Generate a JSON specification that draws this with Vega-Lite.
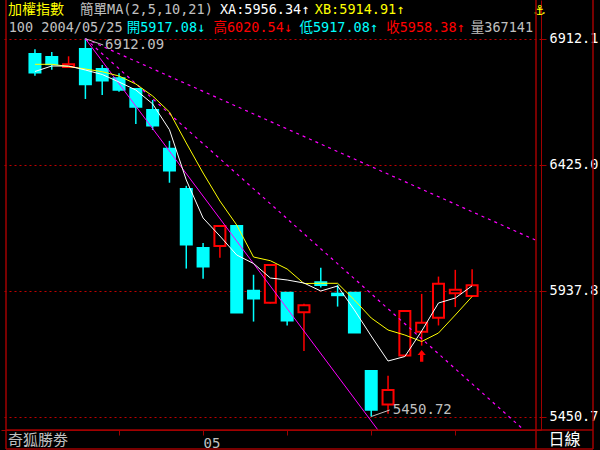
{
  "$schema": "https://vega.github.io/schema/vega-lite/v6.json",
  "width": 540,
  "height": 430,
  "autosize": {"type": "none"},
  "padding": {"left": 1, "top": 0, "right": 59, "bottom": 20},
  "background": "#000000",
  "config": {"view": {"stroke": null}},
  "datasets": {
    "candles": [
      {"idx": 1, "open": 6853, "high": 6871, "low": 6769, "close": 6781},
      {"idx": 2, "open": 6841, "high": 6861, "low": 6792, "close": 6813},
      {"idx": 3, "open": 6803, "high": 6844, "low": 6802, "close": 6813},
      {"idx": 4, "open": 6872, "high": 6912.09, "low": 6679, "close": 6736},
      {"idx": 5, "open": 6795, "high": 6810, "low": 6694, "close": 6750},
      {"idx": 6, "open": 6759, "high": 6778, "low": 6707, "close": 6715},
      {"idx": 7, "open": 6718, "high": 6720, "low": 6582, "close": 6649},
      {"idx": 8, "open": 6636, "high": 6675, "low": 6559, "close": 6576},
      {"idx": 9, "open": 6486, "high": 6517, "low": 6355, "close": 6402},
      {"idx": 10, "open": 6331, "high": 6343, "low": 6023, "close": 6116},
      {"idx": 11, "open": 6103, "high": 6122, "low": 5984, "close": 6031},
      {"idx": 12, "open": 6110, "high": 6190, "low": 6065, "close": 6188},
      {"idx": 13, "open": 6188, "high": 6191, "low": 5852, "close": 5853},
      {"idx": 14, "open": 5937, "high": 5999, "low": 5818, "close": 5907},
      {"idx": 15, "open": 5891, "high": 6038, "low": 5888, "close": 6037},
      {"idx": 16, "open": 5929, "high": 5931, "low": 5803, "close": 5822},
      {"idx": 17, "open": 5854, "high": 5887, "low": 5704, "close": 5881},
      {"idx": 18, "open": 5970, "high": 6026, "low": 5950, "close": 5959},
      {"idx": 19, "open": 5926, "high": 5960, "low": 5876, "close": 5920},
      {"idx": 20, "open": 5929, "high": 5931, "low": 5775, "close": 5776},
      {"idx": 21, "open": 5627, "high": 5629, "low": 5450.72, "close": 5477},
      {"idx": 22, "open": 5497, "high": 5608, "low": 5461, "close": 5553},
      {"idx": 23, "open": 5687, "high": 5860, "low": 5685, "close": 5859},
      {"idx": 24, "open": 5779, "high": 5925, "low": 5725, "close": 5813},
      {"idx": 25, "open": 5833, "high": 5992, "low": 5803, "close": 5964},
      {"idx": 26, "open": 5928, "high": 6018, "low": 5874, "close": 5941},
      {"idx": 27, "open": 5917.08, "high": 6020.54, "low": 5917.08, "close": 5958.38}
    ],
    "ma": [
      {"idx": 1, "xa": 6785.2, "xb": 6813.1},
      {"idx": 2, "xa": 6806.5, "xb": 6813.1},
      {"idx": 3, "xa": 6806.5, "xb": 6804.6},
      {"idx": 4, "xa": 6791.0, "xb": 6794.9},
      {"idx": 5, "xa": 6773.6, "xb": 6784.5},
      {"idx": 6, "xa": 6744.6, "xb": 6767.8},
      {"idx": 7, "xa": 6713.7, "xb": 6736.9},
      {"idx": 8, "xa": 6660.0, "xb": 6690.5},
      {"idx": 9, "xa": 6560.0, "xb": 6628.6},
      {"idx": 10, "xa": 6365.6, "xb": 6508.7},
      {"idx": 11, "xa": 6218.6, "xb": 6392.6},
      {"idx": 12, "xa": 6148.9, "xb": 6284.3},
      {"idx": 13, "xa": 6075.5, "xb": 6191.5},
      {"idx": 14, "xa": 6042.6, "xb": 6067.7},
      {"idx": 15, "xa": 5986.5, "xb": 6053.4},
      {"idx": 16, "xa": 5978.8, "xb": 6021.3},
      {"idx": 17, "xa": 5967.1, "xb": 5965.2},
      {"idx": 18, "xa": 5936.2, "xb": 5966.0},
      {"idx": 19, "xa": 5955.5, "xb": 5966.0},
      {"idx": 20, "xa": 5862.7, "xb": 5901.4},
      {"idx": 21, "xa": 5762.1, "xb": 5831.8},
      {"idx": 22, "xa": 5665.4, "xb": 5785.4},
      {"idx": 23, "xa": 5682.8, "xb": 5766.0},
      {"idx": 24, "xa": 5781.5, "xb": 5740.9},
      {"idx": 25, "xa": 5889.8, "xb": 5773.7},
      {"idx": 26, "xa": 5909.1, "xb": 5843.4},
      {"idx": 27, "xa": 5956.34, "xb": 5914.91}
    ]
  },
  "layer": [
    {
      "data": {"name": "candles"},
      "mark": {"type": "rule", "strokeWidth": 1.5},
      "encoding": {
        "x": {"field": "idx", "type": "quantitative", "title": null, "scale": {"domain": [-0.722, 30.8], "nice": false, "zero": false},
          "axis": {"orient": "bottom", "title": null, "values": [6, 11, 16, 21, 26], "labelExpr": "datum.value == 11 ? '05' : ''", "grid": false, "tickColor": "#A00000", "tickSize": 5, "domainColor": "#A00000", "labelColor": "#C0C0C0", "labelFont": "DejaVu Sans Mono", "labelFontSize": 14, "labelAlign": "left", "labelBaseline": "top", "labelPadding": 1, "labelFlush": false, "labelOverlap": false}},
        "y": {"field": "low", "type": "quantitative", "title": null, "scale": {"domain": [5398.6, 7061.8], "nice": false, "zero": false},
          "axis": {"orient": "right", "title": null,
            "values": [5450.72, 5937.84, 6424.97, 6912.09],
            "format": ".1f",
            "grid": true, "gridColor": "#C00000", "gridDash": [2, 3], "gridWidth": 1, "gridOpacity": 1,
            "tickColor": "#A00000", "tickSize": 5,
            "domainColor": "#A00000", "labelColor": "#FFFFFF", "labelFont": "DejaVu Sans Mono", "labelFontSize": 13.5, "labelPadding": 3, "labelBaseline": "middle", "labelOverlap": false, "labelFlush": false}},
        "y2": {"field": "high"},
        "color": {"condition": {"test": "datum.close > datum.open", "value": "#FF0000"}, "value": "#00FFFF"}
      }
    },
    {
      "data": {"name": "candles"},
      "mark": {"type": "bar", "width": 11, "strokeWidth": 2},
      "encoding": {
        "x": {"field": "idx", "type": "quantitative", "title": null, "scale": {"domain": [-0.722, 30.8], "nice": false, "zero": false}},
        "y": {"field": "open", "type": "quantitative", "title": null, "scale": {"domain": [5398.6, 7061.8], "nice": false, "zero": false}},
        "y2": {"field": "close"},
        "fill": {"condition": {"test": "datum.close > datum.open", "value": "#000000"}, "value": "#00FFFF"},
        "stroke": {"condition": {"test": "datum.close > datum.open", "value": "#FF0000"}, "value": "#00FFFF"}
      }
    },
    {
      "data": {"values": [{"x1": 4, "p1": 6912.09, "x2": 21.4, "p2": 5398.6}]},
      "mark": {"type": "rule", "color": "#FF00FF", "strokeWidth": 1},
      "encoding": {
        "x": {"field": "x1", "type": "quantitative", "title": null, "scale": {"domain": [-0.722, 30.8], "nice": false, "zero": false}},
        "y": {"field": "p1", "type": "quantitative", "title": null, "scale": {"domain": [5398.6, 7061.8], "nice": false, "zero": false}},
        "x2": {"field": "x2"},
        "y2": {"field": "p2"}
      }
    },
    {
      "data": {"values": [{"x1": 4, "p1": 6912.09, "x2": 30.08, "p2": 5398.6}, {"x1": 4, "p1": 6912.09, "x2": 30.8, "p2": 6132.3}]},
      "mark": {"type": "rule", "color": "#FF00FF", "strokeWidth": 1.2, "strokeDash": [3, 4]},
      "encoding": {
        "x": {"field": "x1", "type": "quantitative", "title": null, "scale": {"domain": [-0.722, 30.8], "nice": false, "zero": false}},
        "y": {"field": "p1", "type": "quantitative", "title": null, "scale": {"domain": [5398.6, 7061.8], "nice": false, "zero": false}},
        "x2": {"field": "x2"},
        "y2": {"field": "p2"}
      }
    },
    {
      "data": {"name": "ma"},
      "mark": {"type": "line", "color": "#FFFF00", "strokeWidth": 1},
      "encoding": {
        "x": {"field": "idx", "type": "quantitative", "title": null, "scale": {"domain": [-0.722, 30.8], "nice": false, "zero": false}},
        "y": {"field": "xb", "type": "quantitative", "title": null, "scale": {"domain": [5398.6, 7061.8], "nice": false, "zero": false}}
      }
    },
    {
      "data": {"name": "ma"},
      "mark": {"type": "line", "color": "#FFFFFF", "strokeWidth": 1},
      "encoding": {
        "x": {"field": "idx", "type": "quantitative", "title": null, "scale": {"domain": [-0.722, 30.8], "nice": false, "zero": false}},
        "y": {"field": "xa", "type": "quantitative", "title": null, "scale": {"domain": [5398.6, 7061.8], "nice": false, "zero": false}}
      }
    },
    {
      "data": {"values": [{"x1": 4, "p1": 6912.09, "x2": 5.06, "p2": 6887.7}, {"x1": 21, "p1": 5450.72, "x2": 22.1, "p2": 5475.9}]},
      "mark": {"type": "rule", "color": "#C0C0C0", "strokeWidth": 1},
      "encoding": {
        "x": {"field": "x1", "type": "quantitative", "title": null, "scale": {"domain": [-0.722, 30.8], "nice": false, "zero": false}},
        "y": {"field": "p1", "type": "quantitative", "title": null, "scale": {"domain": [5398.6, 7061.8], "nice": false, "zero": false}},
        "x2": {"field": "x2"},
        "y2": {"field": "p2"}
      }
    },
    {
      "data": {"values": [{"idx": 5.17, "price": 6887.7, "label": "6912.09"}, {"idx": 22.28, "price": 5475.9, "label": "5450.72"}]},
      "mark": {"type": "text", "align": "left", "baseline": "middle", "font": "DejaVu Sans Mono", "fontSize": 14, "color": "#C0C0C0"},
      "encoding": {
        "x": {"field": "idx", "type": "quantitative", "title": null, "scale": {"domain": [-0.722, 30.8], "nice": false, "zero": false}},
        "y": {"field": "price", "type": "quantitative", "title": null, "scale": {"domain": [5398.6, 7061.8], "nice": false, "zero": false}},
        "text": {"field": "label"}
      }
    },
    {
      "data": {"values": [{"idx": 24, "price": 5685}]},
      "mark": {"type": "point", "shape": "M0,-1L0.7,-0.15L0.28,-0.15L0.28,1L-0.28,1L-0.28,-0.15L-0.7,-0.15Z", "filled": true, "color": "#FF0000", "size": 140, "opacity": 1},
      "encoding": {
        "x": {"field": "idx", "type": "quantitative", "title": null, "scale": {"domain": [-0.722, 30.8], "nice": false, "zero": false}},
        "y": {"field": "price", "type": "quantitative", "title": null, "scale": {"domain": [5398.6, 7061.8], "nice": false, "zero": false}}
      }
    },
    {
      "data": {"values": [{"t": "加權指數"}]},
      "mark": {"type": "text", "align": "left", "baseline": "middle", "font": "DejaVu Sans Mono, Noto Sans CJK TC", "fontSize": 14, "color": "#FFFF00"},
      "encoding": {
        "x": {"datum": -0.605, "type": "quantitative", "title": null, "scale": {"domain": [-0.722, 30.8], "nice": false, "zero": false}},
        "y": {"datum": 7021.2, "type": "quantitative", "title": null, "scale": {"domain": [5398.6, 7061.8], "nice": false, "zero": false}},
        "text": {"field": "t"}
      }
    },
    {
      "data": {"values": [{"t": "簡單MA(2,5,10,21)"}]},
      "mark": {"type": "text", "align": "left", "baseline": "middle", "font": "DejaVu Sans Mono, Noto Sans CJK TC", "fontSize": 13.5, "color": "#C0C0C0"},
      "encoding": {
        "x": {"datum": 3.685, "type": "quantitative", "title": null, "scale": {"domain": [-0.722, 30.8], "nice": false, "zero": false}},
        "y": {"datum": 7021.2, "type": "quantitative", "title": null, "scale": {"domain": [5398.6, 7061.8], "nice": false, "zero": false}},
        "text": {"field": "t"}
      }
    },
    {
      "data": {"values": [{"t": "XA:5956.34↑"}]},
      "mark": {"type": "text", "align": "left", "baseline": "middle", "font": "DejaVu Sans Mono, Noto Sans CJK TC", "fontSize": 13.5, "color": "#FFFFFF"},
      "encoding": {
        "x": {"datum": 12.003, "type": "quantitative", "title": null, "scale": {"domain": [-0.722, 30.8], "nice": false, "zero": false}},
        "y": {"datum": 7021.2, "type": "quantitative", "title": null, "scale": {"domain": [5398.6, 7061.8], "nice": false, "zero": false}},
        "text": {"field": "t"}
      }
    },
    {
      "data": {"values": [{"t": "XB:5914.91↑"}]},
      "mark": {"type": "text", "align": "left", "baseline": "middle", "font": "DejaVu Sans Mono, Noto Sans CJK TC", "fontSize": 13.5, "color": "#FFFF00"},
      "encoding": {
        "x": {"datum": 17.648, "type": "quantitative", "title": null, "scale": {"domain": [-0.722, 30.8], "nice": false, "zero": false}},
        "y": {"datum": 7021.2, "type": "quantitative", "title": null, "scale": {"domain": [5398.6, 7061.8], "nice": false, "zero": false}},
        "text": {"field": "t"}
      }
    },
    {
      "data": {"values": [{"t": "100 2004/05/25"}]},
      "mark": {"type": "text", "align": "left", "baseline": "middle", "font": "DejaVu Sans Mono, Noto Sans CJK TC", "fontSize": 13.5, "color": "#C0C0C0"},
      "encoding": {
        "x": {"datum": -0.559, "type": "quantitative", "title": null, "scale": {"domain": [-0.722, 30.8], "nice": false, "zero": false}},
        "y": {"datum": 6953.5, "type": "quantitative", "title": null, "scale": {"domain": [5398.6, 7061.8], "nice": false, "zero": false}},
        "text": {"field": "t"}
      }
    },
    {
      "data": {"values": [{"t": "開5917.08↓"}]},
      "mark": {"type": "text", "align": "left", "baseline": "middle", "font": "DejaVu Sans Mono, Noto Sans CJK TC", "fontSize": 13.5, "color": "#00FFFF"},
      "encoding": {
        "x": {"datum": 6.458, "type": "quantitative", "title": null, "scale": {"domain": [-0.722, 30.8], "nice": false, "zero": false}},
        "y": {"datum": 6953.5, "type": "quantitative", "title": null, "scale": {"domain": [5398.6, 7061.8], "nice": false, "zero": false}},
        "text": {"field": "t"}
      }
    },
    {
      "data": {"values": [{"t": "高6020.54↓"}]},
      "mark": {"type": "text", "align": "left", "baseline": "middle", "font": "DejaVu Sans Mono, Noto Sans CJK TC", "fontSize": 13.5, "color": "#FF0000"},
      "encoding": {
        "x": {"datum": 11.618, "type": "quantitative", "title": null, "scale": {"domain": [-0.722, 30.8], "nice": false, "zero": false}},
        "y": {"datum": 6953.5, "type": "quantitative", "title": null, "scale": {"domain": [5398.6, 7061.8], "nice": false, "zero": false}},
        "text": {"field": "t"}
      }
    },
    {
      "data": {"values": [{"t": "低5917.08↑"}]},
      "mark": {"type": "text", "align": "left", "baseline": "middle", "font": "DejaVu Sans Mono, Noto Sans CJK TC", "fontSize": 13.5, "color": "#00FFFF"},
      "encoding": {
        "x": {"datum": 16.732, "type": "quantitative", "title": null, "scale": {"domain": [-0.722, 30.8], "nice": false, "zero": false}},
        "y": {"datum": 6953.5, "type": "quantitative", "title": null, "scale": {"domain": [5398.6, 7061.8], "nice": false, "zero": false}},
        "text": {"field": "t"}
      }
    },
    {
      "data": {"values": [{"t": "收5958.38↑"}]},
      "mark": {"type": "text", "align": "left", "baseline": "middle", "font": "DejaVu Sans Mono, Noto Sans CJK TC", "fontSize": 13.5, "color": "#FF0000"},
      "encoding": {
        "x": {"datum": 21.892, "type": "quantitative", "title": null, "scale": {"domain": [-0.722, 30.8], "nice": false, "zero": false}},
        "y": {"datum": 6953.5, "type": "quantitative", "title": null, "scale": {"domain": [5398.6, 7061.8], "nice": false, "zero": false}},
        "text": {"field": "t"}
      }
    },
    {
      "data": {"values": [{"t": "量367141"}]},
      "mark": {"type": "text", "align": "left", "baseline": "middle", "font": "DejaVu Sans Mono, Noto Sans CJK TC", "fontSize": 13.5, "color": "#C0C0C0"},
      "encoding": {
        "x": {"datum": 26.924, "type": "quantitative", "title": null, "scale": {"domain": [-0.722, 30.8], "nice": false, "zero": false}},
        "y": {"datum": 6953.5, "type": "quantitative", "title": null, "scale": {"domain": [5398.6, 7061.8], "nice": false, "zero": false}},
        "text": {"field": "t"}
      }
    },
    {
      "data": {"values": [{"t": "⚓"}]},
      "mark": {"type": "text", "align": "center", "baseline": "middle", "font": "DejaVu Sans", "fontSize": 14, "fontWeight": "bold", "color": "#FFFF00"},
      "encoding": {
        "x": {"datum": 31.03, "type": "quantitative", "title": null, "scale": {"domain": [-0.722, 30.8], "nice": false, "zero": false}},
        "y": {"datum": 7019.2, "type": "quantitative", "title": null, "scale": {"domain": [5398.6, 7061.8], "nice": false, "zero": false}},
        "text": {"field": "t"}
      }
    },
    {
      "data": {"values": [{"t": "奇狐勝劵"}]},
      "mark": {"type": "text", "align": "left", "baseline": "middle", "font": "Noto Sans CJK TC", "fontSize": 15, "color": "#C0C0C0"},
      "encoding": {
        "x": {"datum": -0.605, "type": "quantitative", "title": null, "scale": {"domain": [-0.722, 30.8], "nice": false, "zero": false}},
        "y": {"datum": 5359.8, "type": "quantitative", "title": null, "scale": {"domain": [5398.6, 7061.8], "nice": false, "zero": false}},
        "text": {"field": "t"}
      }
    },
    {
      "data": {"values": [{"t": "日線"}]},
      "mark": {"type": "text", "align": "center", "baseline": "middle", "font": "Noto Sans CJK TC", "fontSize": 16, "color": "#FFFFFF"},
      "encoding": {
        "x": {"datum": 32.49, "type": "quantitative", "title": null, "scale": {"domain": [-0.722, 30.8], "nice": false, "zero": false}},
        "y": {"datum": 5359.8, "type": "quantitative", "title": null, "scale": {"domain": [5398.6, 7061.8], "nice": false, "zero": false}},
        "text": {"field": "t"}
      }
    },
    {
      "data": {"values": [
        {"a": -0.722, "b": -0.722, "c": 7061.8, "d": 5325.1},
        {"a": 30.8, "b": 30.8, "c": 7061.8, "d": 5325.1},
        {"a": 34.19, "b": 34.19, "c": 7061.8, "d": 5325.1},
        {"a": -0.722, "b": 34.19, "c": 5398.6, "d": 5398.6},
        {"a": -0.722, "b": 34.19, "c": 5325.1, "d": 5325.1}
      ]},
      "mark": {"type": "rule", "color": "#A00000", "strokeWidth": 1.5},
      "encoding": {
        "x": {"field": "a", "type": "quantitative", "title": null, "scale": {"domain": [-0.722, 30.8], "nice": false, "zero": false}},
        "x2": {"field": "b"},
        "y": {"field": "c", "type": "quantitative", "title": null, "scale": {"domain": [5398.6, 7061.8], "nice": false, "zero": false}},
        "y2": {"field": "d"}
      }
    }
  ]
}
